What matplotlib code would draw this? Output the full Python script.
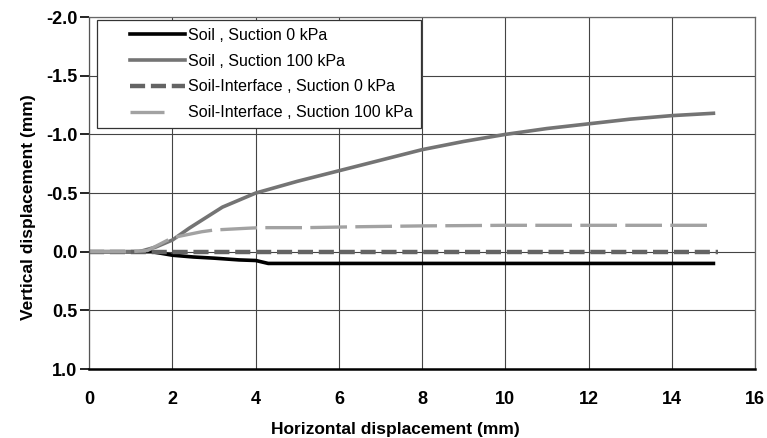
import numpy as np
import matplotlib.pyplot as plt
from matplotlib.legend_handler import HandlerLine2D

soil_0_x = [0, 1.0, 1.5, 2.0, 2.5, 3.0, 3.6, 4.0, 4.3, 6, 8, 10, 12, 14, 15]
soil_0_y = [0, 0.0, 0.0, 0.03, 0.045, 0.055, 0.07, 0.075, 0.10, 0.10, 0.10, 0.10, 0.10, 0.10, 0.10]

soil_100_x = [0, 1.0, 1.2, 1.6, 2.0, 2.4, 3.2, 4.0, 5.0, 6.0, 7.0, 8.0, 9.0, 10.0, 11.0, 12.0, 13.0, 14.0, 15.0]
soil_100_y = [0, 0.0, 0.0, -0.04, -0.10, -0.20, -0.38, -0.50, -0.60, -0.69, -0.78, -0.87, -0.94, -1.00, -1.05, -1.09, -1.13, -1.16, -1.18]

intf_0_x = [0, 15.1]
intf_0_y = [0, 0]

intf_100_x = [0, 1.0, 1.4, 2.0, 2.7, 3.0, 3.8, 4.1, 5.2, 6.5, 8.0, 10.0, 12.0, 15.0]
intf_100_y = [0, 0.0, -0.01, -0.12, -0.17, -0.185, -0.20, -0.205, -0.205, -0.213, -0.22, -0.225, -0.225, -0.225]

labels = ["Soil , Suction 0 kPa",
          "Soil , Suction 100 kPa",
          "Soil-Interface , Suction 0 kPa",
          "Soil-Interface , Suction 100 kPa"]

plt.rcParams['font.family'] = ['Liberation Sans', 'DejaVu Sans']


class PadLine(HandlerLine2D):
    # handle line drawn over only part of the handle box
    def __init__(self, frac=1.0, **kw):
        super().__init__(**kw)
        self.frac = frac

    def create_artists(self, legend, orig_handle, xdescent, ydescent, width, height, fontsize, trans):
        return super().create_artists(legend, orig_handle, xdescent, ydescent,
                                      width * self.frac, height, fontsize, trans)


fig = plt.figure(figsize=(7.67, 4.38), dpi=100)
ax = fig.add_axes([0.1164, 0.1575, 0.868, 0.8035])

l1, = ax.plot(soil_0_x, soil_0_y, color='black', lw=2.6, label=labels[0])
l2, = ax.plot(soil_100_x, soil_100_y, color='#747474', lw=2.6, label=labels[1])
l3, = ax.plot(intf_0_x, intf_0_y, color='#646464', lw=3.2, ls=(0, (3.4, 1.3)), label=labels[2])
l4, = ax.plot(intf_100_x, intf_100_y, color='#a2a2a2', lw=2.4, ls=(0, (11, 2.5)), label=labels[3])

ax.set_xlim(0, 16)
ax.set_ylim(1.0, -2.0)
ax.set_xticks(np.arange(0, 17, 2))
yt = np.arange(-2.0, 1.01, 0.5)
ax.set_yticks(yt)
ax.set_yticklabels([f"{v:.1f}" for v in yt])
ax.grid(True, color='#444444', lw=0.8)
ax.set_axisbelow(True)

for s in ['top', 'right']:
    ax.spines[s].set_color('#666666')
    ax.spines[s].set_linewidth(0.9)
ax.spines['left'].set_color('#555555')
ax.spines['left'].set_linewidth(0.9)
ax.spines['bottom'].set_color('black')
ax.spines['bottom'].set_linewidth(1.8)

ax.tick_params(axis='x', length=0, pad=15.5, labelsize=13)
ax.tick_params(axis='y', length=6.5, width=1.2, direction='out', labelsize=13, pad=2)
for t in ax.get_xticklabels() + ax.get_yticklabels():
    t.set_fontweight('bold')

ax.set_xlabel("Horizontal displacement (mm)", fontsize=12.5, fontweight='bold')
ax.xaxis.set_label_coords(0.46, -0.173)
ax.xaxis.label.set_va('center')
ax.set_ylabel("Vertical displacement (mm)", fontsize=12.5, fontweight='bold')
ax.yaxis.set_label_coords(-0.0906, 0.46)
ax.yaxis.label.set_va('center')

hmap = {l1: PadLine(xpad=1.57), l2: PadLine(xpad=1.57), l3: PadLine(xpad=1.57),
        l4: PadLine(frac=0.62, xpad=1.57)}
leg = ax.legend(handles=[l1, l2, l3, l4], handler_map=hmap,
                loc='upper left', bbox_to_anchor=(0.0116, 0.9915), fontsize=11.5,
                frameon=True, fancybox=False, handlelength=5.0, handletextpad=0.2,
                labelspacing=0.67, borderpad=0.5, borderaxespad=0)
leg.get_frame().set_edgecolor('#333333')
leg.get_frame().set_linewidth(0.9)
leg.get_frame().set_facecolor('white')
leg.get_frame().set_alpha(1)

fig.savefig("out.png", dpi=100)
